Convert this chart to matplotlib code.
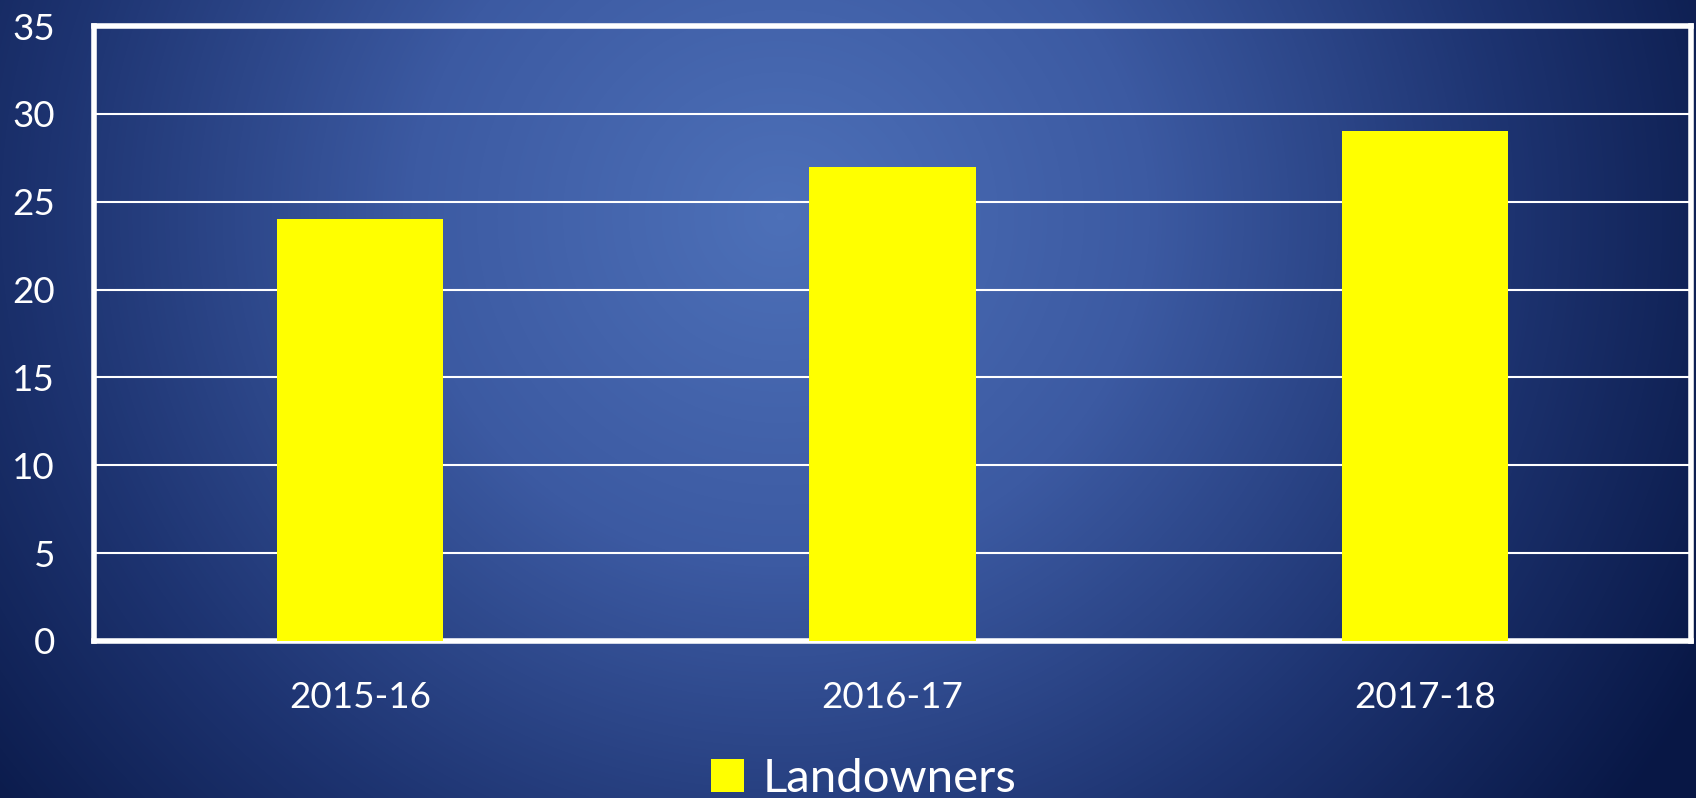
import numpy as np
import matplotlib
matplotlib.use("Agg")
import matplotlib.pyplot as plt
from matplotlib.colors import LinearSegmentedColormap
from matplotlib.patches import Patch

categories = ["2015-16", "2016-17", "2017-18"]
landowners = [24, 27, 29]
yticks = [0, 5, 10, 15, 20, 25, 30, 35]

plt.rcParams['font.family'] = ['Lato', 'DejaVu Sans']

W, H = 1696, 798
fig = plt.figure(figsize=(W / 100, H / 100), dpi=100)

# radial gradient background
bg = fig.add_axes([0, 0, 1, 1])
yy, xx = np.mgrid[0:H, 0:W]
cx, cy = 780, 216
d = np.sqrt(((xx - cx) / 1.0) ** 2 + ((yy - cy) / 0.95) ** 2) / 1050.0
d = np.clip(d, 0, 1)
cmap = LinearSegmentedColormap.from_list("bg", [(0, "#4d70b8"), (0.35, "#3c5aa2"), (0.7, "#1d3370"), (1.0, "#081745")])
bg.imshow(d, cmap=cmap, vmin=0, vmax=1, aspect="auto", extent=[0, W, H, 0], interpolation="bilinear")
bg.set_axis_off()

ax = fig.add_axes([94 / W, 1 - 641 / H, (1691 - 94) / W, (641 - 26) / H])
ax.patch.set_alpha(0)
x = np.arange(len(categories))
ax.bar(x, landowners, width=0.312, color="#ffff00", zorder=3, label="Landowners")
ax.set_xlim(-0.5, 2.5)
ax.set_ylim(0, 35)
ax.set_yticks(yticks)
ax.set_xticks(x)
ax.set_xticklabels(categories)
ax.yaxis.grid(True, color="white", linewidth=1.5, zorder=1)
ax.set_axisbelow(True)
for s in ax.spines.values():
    s.set_color("white")
    s.set_linewidth(4)
ax.tick_params(axis="both", length=0, colors="white", labelsize=26.5)
ax.tick_params(axis="y", pad=28)
ax.tick_params(axis="x", pad=29)

handles = [Patch(facecolor="#ffff00", edgecolor="none")]
leg = fig.legend(handles, ["Landowners"], loc="center", bbox_to_anchor=(864 / W, 1 - 779 / H),
                 frameon=False, fontsize=34, handlelength=0.7, handleheight=0.7, handletextpad=0.4,
                 labelcolor="white", borderpad=0.1)

fig.savefig("out.png", dpi=100)
